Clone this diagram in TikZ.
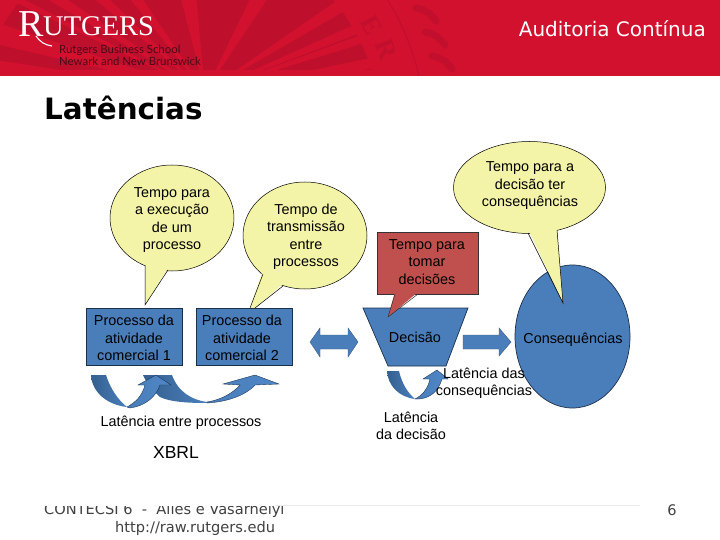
\documentclass[tikz,border=0pt]{standalone}
\usepackage{fontspec}
\setmainfont{Liberation Sans}
\newfontfamily\vfont{DejaVu Sans}
\newfontfamily\sfont{Liberation Serif}
\newfontfamily\lfont{Lato}
\definecolor{band}{HTML}{D2112F}
\definecolor{wedge}{HTML}{BE0F2D}
\definecolor{seal}{HTML}{C30F2E}
\definecolor{bluefill}{HTML}{4A7EBB}
\definecolor{yel}{HTML}{F4F4A8}
\definecolor{redbox}{HTML}{C0504D}
\definecolor{bdark}{HTML}{35608F}
\definecolor{blight}{HTML}{4F86C6}
\definecolor{edge}{HTML}{1A2F4A}
\definecolor{maroon}{HTML}{4A0A18}
\newcommand{\fs}[2]{\fontsize{#1}{#2}\selectfont}
\tikzset{
 x=1pt,y=-1pt,
 lab/.style={inner sep=0pt,align=center,text=black,font=\fs{14.4}{17.5}},
 bubble/.style={fill=yel,draw=black,line width=.5pt},
 tailedge/.style={draw=black,line width=.5pt,line join=miter},
 blueshape/.style={fill=bluefill,draw=edge,line width=.7pt},
 darkarc/.style={left color=bdark,right color=bluefill,draw=none},
 lightarc/.style={left color=bluefill,right color=blight,draw=edge,line width=.35pt},
 ray/.style={fill=band,draw=none},
 sealtxt/.style={inner sep=0pt,text=seal,font=\sfont\bfseries\fs{27}{27}},
 foot/.style={inner sep=0pt,text=black!75,font=\vfont\fs{14.6}{16}},
 logosub/.style={anchor=base west,inner sep=0pt,text=maroon,font=\lfont\fs{11.4}{12}},
}
\begin{document}
\begin{tikzpicture}
\useasboundingbox (0,0) rectangle (720,540);
\fill[white] (0,0) rectangle (720,540);
% header
\begin{scope}
\clip (0,0) rectangle (720,76);
\fill[band] (0,0) rectangle (720,76);
\fill[wedge] (177,131) circle[radius=204pt];
\foreach \a/\b in {127/140,180/196,252/270,345/372,420/450,470/520}{
  \fill[ray] (205,92) -- (\a,-5) -- (\b,-5) -- cycle;}
\fill[ray] (205,92) -- (400,10) -- (400,18) -- cycle;
\fill[ray] (205,92) -- (420,48) -- (420,62) -- cycle;
\fill[ray] (205,92) -- (420,76) -- (420,100) -- cycle;
\foreach \a/\b in {90/105,40/60,0/15}{
  \fill[ray] (205,92) -- (\a,-5) -- (\b,-5) -- cycle;}
\fill[ray] (205,92) -- (-5,22) -- (-5,44) -- cycle;
\fill[ray] (205,92) -- (-5,60) -- (-5,76) -- cycle;
\fill[ray] (0,70) rectangle (720,76);
\path[fill=band,even odd rule] (177,131) circle[radius=250pt] (177,131) circle[radius=204pt];
\draw[seal,line width=1.2pt] (177,131) circle[radius=248pt];
\node[sealtxt,rotate=-62] (seale) at (372,25) {E};
\node[sealtxt,rotate=-68] (sealr) at (386,49) {R};
\foreach \p/\q in {416/8,425/32,432/56}{
  \draw[seal,line width=7pt,line cap=round] (\p,\q) .. controls (\p+8,\q+1) and (\p+14,\q+5) .. (\p+20,\q+13);}
\end{scope}
\node[anchor=base west,inner sep=0pt,text=white,font=\sfont\fs{38}{38}] (logor) at (18,37) {R};
\node[anchor=base west,inner sep=0pt,text=white,font=\sfont\fs{28.5}{28}] (logou) at (43,36) {UTGERS};
\draw[white,line width=1.1pt] (36,36) .. controls (40,42) and (45,45) .. (52,46);
\node[logosub] (rbs) at (59,53.5) {Rutgers Business School};
\node[logosub] (nnb) at (59,65.5) {Newark and New Brunswick};
\node[anchor=base east,inner sep=0pt,text=white,font=\vfont\fs{20}{20}] (hdr) at (706,36.5) {Auditoria Contínua};
\node[anchor=base west,inner sep=0pt,text=black,font=\vfont\bfseries\fs{29.4}{30}] (title) at (44,119.5) {Latências};
% bubbles
\draw[bubble] (172,218) ellipse[x radius=62pt,y radius=53pt];
\fill[yel] (145,262) -- (145,305) -- (168,268) -- cycle;
\draw[tailedge] (145,265) -- (145,305) -- (168,270);
\draw[bubble] (305,235.5) ellipse[x radius=62pt,y radius=53.5pt];
\fill[yel] (263,270) -- (250,308) -- (255,308) -- (284,283) -- cycle;
\draw[tailedge] (263,274) -- (250,308);
\draw[tailedge] (255,308) -- (283,286);
% consequences
\draw[fill=bluefill,draw=edge,line width=.7pt] (572.5,336.5) ellipse[x radius=57.5pt,y radius=71.5pt];
\draw[bubble] (529.5,187.5) ellipse[x radius=76pt,y radius=46pt];
\fill[yel] (528,229) -- (563,303) -- (557,227) -- cycle;
\draw[tailedge] (528,233) -- (563,303) -- (557,230);
% boxes
\draw[blueshape] (86,308) rectangle (182,365);
\draw[blueshape] (196,308) rectangle (292,365);
% double and single arrows
\fill[bluefill,draw=bluefill!70!black,line width=.4pt] (310,342) -- (320,328) -- (320,335) -- (348,335) -- (348,328) -- (358,342) -- (348,357) -- (348,349) -- (320,349) -- (320,357) -- cycle;
\fill[bluefill,draw=bluefill!70!black,line width=.4pt] (463,335) -- (499,335) -- (499,328) -- (511,342) -- (499,356) -- (499,349) -- (463,349) -- cycle;
% trapezoid + red callout
\draw[blueshape] (363,308) -- (468,308) -- (446,366) -- (388,366) -- cycle;
\draw[fill=redbox,draw=black!80,line width=.6pt] (377,232) rectangle (478,294);
\fill[redbox] (395,292) -- (388,317) -- (418,292) -- cycle;
\draw[black!80,line width=.5pt] (395,294) -- (388,317);
\draw[black!80,line width=.5pt] (388,317) -- (418,294);
% curved arrows
\path[darkarc] (143,375) -- (172,375) .. controls (178,392) and (192,400) .. (207,402) -- (207,403) .. controls (188,403) and (170,402) .. (160,397) .. controls (152,390) and (146,382) .. (143,375) -- cycle;
\path[lightarc] (207,403) .. controls (226,402) and (245,396) .. (255,385) -- (279,384) -- (255,375) -- (223,384) -- (240,385) .. controls (232,394) and (220,400) .. (207,402) -- cycle;
\path[darkarc] (91,375) -- (106,375) .. controls (110,388) and (118,400) .. (127,407) .. controls (108,405) and (92,393) .. (91,375) -- cycle;
\path[lightarc] (127,407) .. controls (136,402) and (142,396) .. (145,385) -- (138,385) -- (156,375) -- (171,385) -- (160,385) .. controls (156,397) and (145,406) .. (130,408) -- cycle;
\path[darkarc] (387,371) -- (399,371) .. controls (402,384) and (408,393) .. (415,399) .. controls (399,397) and (388,386) .. (387,371) -- cycle;
\path[lightarc] (415,399) .. controls (423,395) and (428,388) .. (430,379) -- (423,379) -- (437,370) -- (448,379) -- (442,379) .. controls (438,392) and (430,398) .. (419,399) -- cycle;
% labels
\node[lab] (t1) at (172,220) {Tempo para\\a execução\\de um\\processo};
\node[lab] (t2) at (306,237) {Tempo de\\transmissão\\entre\\processos};
\node[lab] (t3) at (530,186) {Tempo para a\\decisão ter\\consequências};
\node[lab] (t4) at (427,262) {Tempo para\\tomar\\decisões};
\node[lab] (p1) at (134,338) {Processo da\\atividade\\comercial 1};
\node[lab] (p2) at (242,338) {Processo da\\atividade\\comercial 2};
\node[lab] (dec) at (415,337.5) {Decisão};
\node[lab] (cons) at (573,339.5) {Consequências};
\node[lab] (lat1) at (181,423) {Latência entre processos};
\node[lab] (lat2) at (484,383.5) {Latência das\\consequências};
\node[lab] (lat3) at (411,426) {Latência\\da decisão};
\node[inner sep=0pt,text=black,font=\fs{17.5}{18}] (xbrl) at (176,452) {XBRL};
% footer
\node[foot,anchor=base west] (f1) at (44,514.5) {CONTECSI 6 \ -\ \ Alles e Vasarhelyi};
\node[foot,anchor=base west] (f2) at (115,532) {http://raw.rutgers.edu};
\fill[white] (30,490) rectangle (300,505.5);
\node[foot,anchor=base] (f3) at (672,515) {6};
\draw[black!8,line width=.6pt] (275,505) -- (640,505);
\end{tikzpicture}
\end{document}
